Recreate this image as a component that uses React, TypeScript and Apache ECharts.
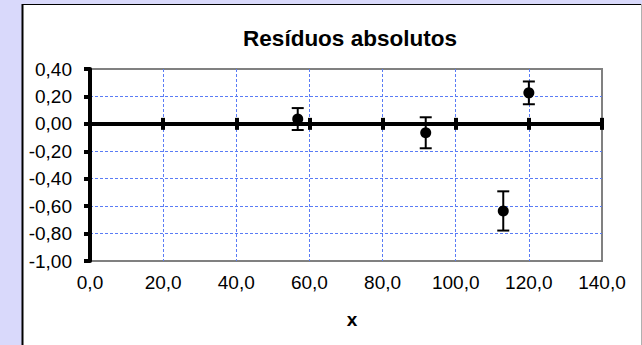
import React, { useEffect, useRef } from "react";
import * as echarts from "echarts";

const xValues: number[] = [56.8, 91.8, 113.0, 120.0];
const yValues: number[] = [0.035, -0.065, -0.635, 0.226];
const yErrors: number[] = [0.08, 0.113, 0.143, 0.083];

const titleText = "Resíduos absolutos";
const xAxisTitle = "x";

const FONT = "'Liberation Sans', Arial, sans-serif";
const GRID_BLUE = "#5a7cf5";

export default function App() {
  const ref = useRef<HTMLDivElement>(null);

  useEffect(() => {
    if (!ref.current) return;
    const chart = echarts.init(ref.current, null, { renderer: "svg" });

    const points = xValues.map((x, i) => [x, yValues[i]]);
    const errData = xValues.map((x, i) => [x, yValues[i] - yErrors[i], yValues[i] + yErrors[i]]);

    const fmtX = (v: number) => v.toFixed(1).replace(".", ",");
    const fmtY = (v: number) => v.toFixed(2).replace(".", ",");

    const baseX = {
      type: "value",
      min: 0,
      max: 140,
      interval: 20,
    };

    chart.setOption({
      animation: false,
      backgroundColor: "#d9d9fb",
      textStyle: { fontFamily: FONT },
      graphic: [
        {
          type: "rect",
          z: -10,
          shape: { x: 22, y: 4, width: 620, height: 345 },
          style: { fill: "#ffffff" },
        },
        {
          type: "line",
          z: -9,
          shape: { x1: 22.5, y1: 4, x2: 22.5, y2: 345 },
          style: { stroke: "#000", lineWidth: 2 },
        },
        {
          type: "line",
          z: -9,
          shape: { x1: 22, y1: 4.5, x2: 641, y2: 4.5 },
          style: { stroke: "#000", lineWidth: 1 },
        },
        {
          type: "line",
          z: -9,
          shape: { x1: 641.5, y1: 4, x2: 641.5, y2: 345 },
          style: { stroke: "#b0b0b0", lineWidth: 1 },
        },
        {
          type: "text",
          x: 350,
          y: 38,
          style: {
            text: titleText,
            fontFamily: FONT,
            fontSize: 22.5,
            fontWeight: "bold",
            fill: "#000",
            align: "center",
            verticalAlign: "middle",
          },
        },
        {
          type: "text",
          x: 352,
          y: 319,
          style: {
            text: xAxisTitle,
            fontFamily: FONT,
            fontSize: 19,
            fontWeight: "bold",
            fill: "#000",
            align: "center",
            verticalAlign: "middle",
          },
        },
      ],
      grid: {
        left: 90,
        top: 69,
        right: 40,
        bottom: 84,
        show: true,
        borderColor: "#808080",
        borderWidth: 2,
        backgroundColor: "transparent",
      },
      xAxis: [
        {
          ...baseX,
          position: "bottom",
          axisLine: { show: false, onZero: false },
          axisTick: { show: false },
          axisLabel: {
            formatter: fmtX,
            fontSize: 19,
            fontFamily: FONT,
            color: "#000",
            margin: 12,
          },
          splitLine: {
            show: true,
            showMinLine: false,
            showMaxLine: false,
            lineStyle: { color: GRID_BLUE, width: 1, type: [3, 2] },
          },
        },
        {
          ...baseX,
          position: "bottom",
          axisLine: {
            show: true,
            onZero: true,
            onZeroAxisIndex: 0,
            lineStyle: { color: "#000", width: 4 },
          },
          axisTick: { show: true, length: 6, lineStyle: { color: "#000", width: 4 } },
          axisLabel: { show: false },
          splitLine: { show: false },
        },
        {
          ...baseX,
          position: "top",
          axisLine: {
            show: false,
            onZero: true,
            onZeroAxisIndex: 0,
          },
          axisTick: { show: true, length: 6, lineStyle: { color: "#000", width: 4 } },
          axisLabel: { show: false },
          splitLine: { show: false },
        },
      ],
      yAxis: {
        type: "value",
        min: -1,
        max: 0.4,
        interval: 0.2,
        axisLine: { show: true, onZero: false, lineStyle: { color: "#000", width: 4 } },
        axisTick: { show: true, length: 6, lineStyle: { color: "#000", width: 4 } },
        axisLabel: {
          formatter: fmtY,
          fontSize: 19,
          fontFamily: FONT,
          color: "#000",
          margin: 18,
        },
        splitLine: {
          show: true,
          showMinLine: false,
          showMaxLine: false,
          lineStyle: { color: GRID_BLUE, width: 1, type: [3, 2] },
        },
      },
      series: [
        {
          type: "custom",
          xAxisIndex: 0,
          yAxisIndex: 0,
          data: errData,
          z: 5,
          renderItem: (params: any, api: any) => {
            const x = api.value(0);
            const lo = api.coord([x, api.value(1)]);
            const hi = api.coord([x, api.value(2)]);
            const hw = 6;
            const style = { stroke: "#000", lineWidth: 2, fill: "none" };
            return {
              type: "group",
              children: [
                { type: "line", shape: { x1: lo[0], y1: lo[1], x2: hi[0], y2: hi[1] }, style },
                { type: "line", shape: { x1: lo[0] - hw, y1: lo[1], x2: lo[0] + hw, y2: lo[1] }, style },
                { type: "line", shape: { x1: hi[0] - hw, y1: hi[1], x2: hi[0] + hw, y2: hi[1] }, style },
              ],
            };
          },
        },
        {
          type: "scatter",
          xAxisIndex: 0,
          yAxisIndex: 0,
          data: points,
          symbol: "circle",
          symbolSize: 11,
          z: 6,
          itemStyle: { color: "#000", opacity: 1 },
        },
      ],
    });

    return () => chart.dispose();
  }, []);

  return (
    <div
      ref={ref}
      style={{ position: "fixed", left: 0, top: 0, width: 642, height: 345 }}
    />
  );
}
